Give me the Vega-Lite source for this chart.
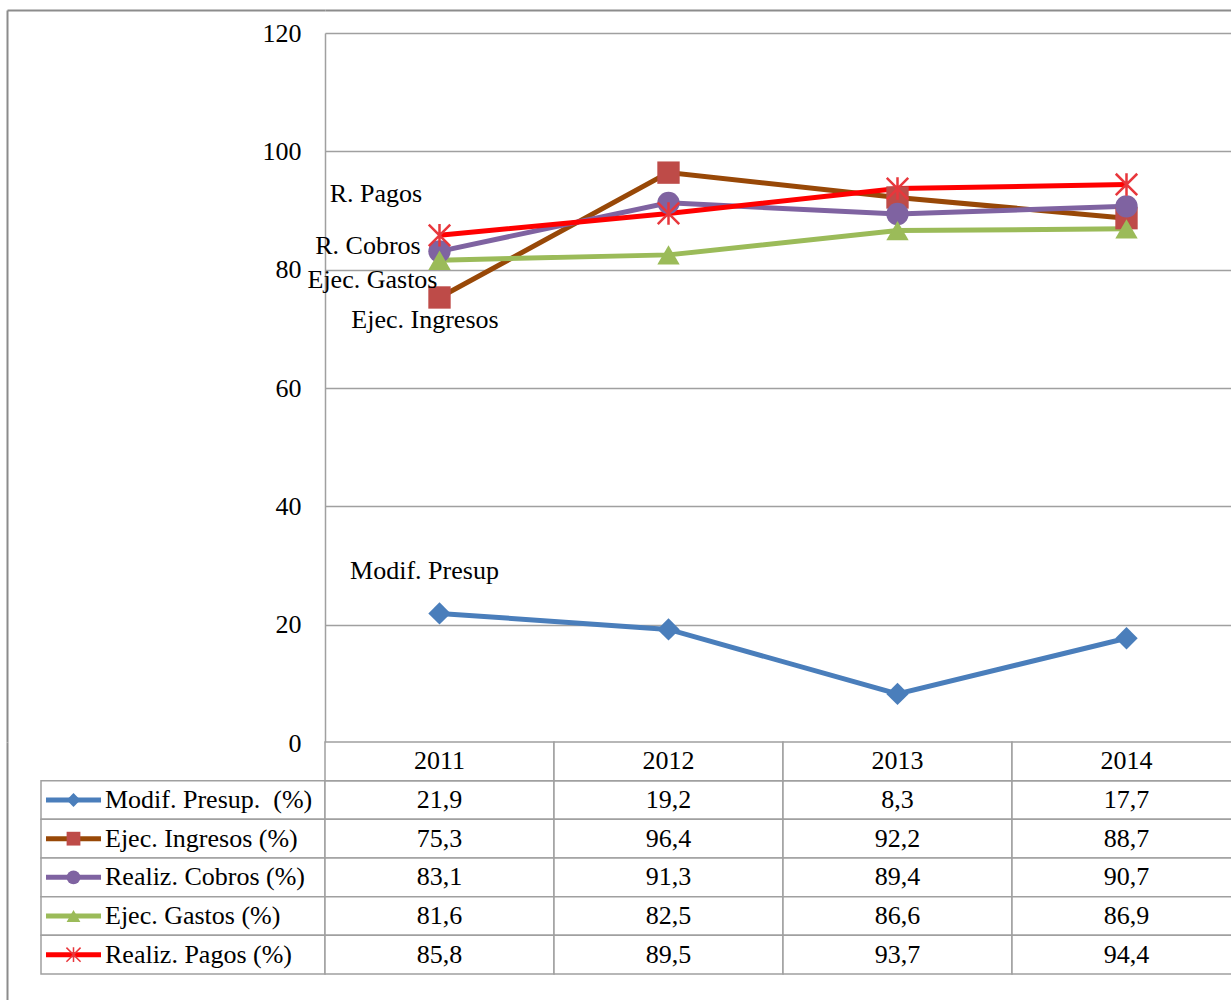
{
  "$schema": "https://vega.github.io/schema/vega-lite/v6.json",
  "padding": {"left": 7, "top": 10, "right": 0, "bottom": 0},
  "background": "white",
  "config": {
    "font": "Liberation Serif",
    "view": {"stroke": null},
    "locale": {"number": {"decimal": ",", "thousands": ".", "grouping": [3], "currency": ["", " €"]}},
    "text": {"font": "Liberation Serif", "fontSize": 26, "color": "black"},
    "axis": {"labelFont": "Liberation Serif", "labelFontSize": 26, "labelColor": "black", "title": null}
  },
  "datasets": {
    "d": [
      {"serie": "Modif. Presup. \u00a0(%)", "anio": "2011", "valor": 21.9},
      {"serie": "Modif. Presup. \u00a0(%)", "anio": "2012", "valor": 19.2},
      {"serie": "Modif. Presup. \u00a0(%)", "anio": "2013", "valor": 8.3},
      {"serie": "Modif. Presup. \u00a0(%)", "anio": "2014", "valor": 17.7},
      {"serie": "Ejec. Ingresos (%)", "anio": "2011", "valor": 75.3},
      {"serie": "Ejec. Ingresos (%)", "anio": "2012", "valor": 96.4},
      {"serie": "Ejec. Ingresos (%)", "anio": "2013", "valor": 92.2},
      {"serie": "Ejec. Ingresos (%)", "anio": "2014", "valor": 88.7},
      {"serie": "Realiz. Cobros (%)", "anio": "2011", "valor": 83.1},
      {"serie": "Realiz. Cobros (%)", "anio": "2012", "valor": 91.3},
      {"serie": "Realiz. Cobros (%)", "anio": "2013", "valor": 89.4},
      {"serie": "Realiz. Cobros (%)", "anio": "2014", "valor": 90.7},
      {"serie": "Ejec. Gastos (%)", "anio": "2011", "valor": 81.6},
      {"serie": "Ejec. Gastos (%)", "anio": "2012", "valor": 82.5},
      {"serie": "Ejec. Gastos (%)", "anio": "2013", "valor": 86.6},
      {"serie": "Ejec. Gastos (%)", "anio": "2014", "valor": 86.9},
      {"serie": "Realiz. Pagos (%)", "anio": "2011", "valor": 85.8},
      {"serie": "Realiz. Pagos (%)", "anio": "2012", "valor": 89.5},
      {"serie": "Realiz. Pagos (%)", "anio": "2013", "valor": 93.7},
      {"serie": "Realiz. Pagos (%)", "anio": "2014", "valor": 94.4}
    ]
  },
  "columns": 2,
  "spacing": 0,
  "bounds": "flush",
  "concat": [
    {
      "width": 284,
      "height": 732,
      "data": {"name": "d"},
      "mark": {"type": "point", "opacity": 0},
      "encoding": {
        "x": {"datum": "a", "type": "nominal", "scale": {"type": "point", "domain": ["a"], "range": [-34, 284]},
              "axis": {"orient": "top", "domain": true, "domainColor": "#8C8C8C", "domainWidth": 2, "labels": false, "ticks": false, "grid": false, "title": null}},
        "y": {"datum": 0, "type": "quantitative", "scale": {"domain": [0, 1]},
              "axis": {"orient": "left", "offset": 34, "domain": true, "domainColor": "#8C8C8C", "domainWidth": 2, "labels": false, "ticks": false, "grid": false, "title": null}}
      }
    },
    {
      "width": 916,
      "height": 732,
      "data": {"name": "d"},
      "encoding": {
        "x": {"field": "anio", "type": "ordinal", "scale": {"type": "point", "padding": 0.5},
              "axis": {"orient": "top", "domain": true, "domainColor": "#8C8C8C", "domainWidth": 2, "labels": false, "ticks": false, "grid": false, "title": null}},
        "y": {"field": "valor", "type": "quantitative", "scale": {"domain": [0, 120], "range": [733, 23], "nice": false, "zero": true},
              "axis": {"values": [0, 20, 40, 60, 80, 100, 120], "domain": true, "domainColor": "#A0A0A0", "domainWidth": 1.5, "ticks": false, "grid": true, "gridColor": "#A0A0A0", "gridWidth": 1.5, "labelPadding": 24, "title": null}}
      },
      "layer": [
        {
          "mark": {"type": "line", "strokeWidth": 5},
          "encoding": {
            "color": {"field": "serie", "type": "nominal",
                      "scale": {"domain": ["Modif. Presup. \u00a0(%)", "Ejec. Ingresos (%)", "Realiz. Cobros (%)", "Ejec. Gastos (%)", "Realiz. Pagos (%)"],
                                "range": ["#4A7EBB", "#984807", "#7F63A1", "#9BBB59", "#FF0000"]},
                      "legend": null}
          }
        },
        {
          "transform": [{"filter": "datum.serie !== 'Realiz. Pagos (%)'"}],
          "mark": {"type": "point", "filled": true, "size": 500, "opacity": 1},
          "encoding": {
            "fill": {"field": "serie", "type": "nominal",
                     "scale": {"domain": ["Modif. Presup. \u00a0(%)", "Ejec. Ingresos (%)", "Realiz. Cobros (%)", "Ejec. Gastos (%)"],
                               "range": ["#4A7EBB", "#BE4B48", "#7F63A1", "#9BBB59"]},
                     "legend": null},
            "shape": {"field": "serie", "type": "nominal",
                      "scale": {"domain": ["Modif. Presup. \u00a0(%)", "Ejec. Ingresos (%)", "Realiz. Cobros (%)", "Ejec. Gastos (%)"],
                                "range": ["diamond", "square", "circle", "triangle-up"]},
                      "legend": null}
          }
        },
        {
          "transform": [{"filter": "datum.serie === 'Realiz. Pagos (%)'"}],
          "mark": {"type": "point", "shape": "M-1,-1L1,1M-1,1L1,-1M0,-1.05L0,1.05", "size": 460, "filled": false, "stroke": "#E8373C", "strokeWidth": 2.5, "opacity": 1}
        },
        {
          "transform": [{"filter": "datum.anio === '2011' && datum.serie === 'Realiz. Pagos (%)'"}],
          "mark": {"type": "text", "text": "R. Pagos", "align": "center", "baseline": "middle", "dx": -63.5, "dy": -41}
        },
        {
          "transform": [{"filter": "datum.anio === '2011' && datum.serie === 'Realiz. Cobros (%)'"}],
          "mark": {"type": "text", "text": "R. Cobros", "align": "center", "baseline": "middle", "dx": -71.5, "dy": -5}
        },
        {
          "transform": [{"filter": "datum.anio === '2011' && datum.serie === 'Ejec. Gastos (%)'"}],
          "mark": {"type": "text", "text": "Ejec. Gastos", "align": "center", "baseline": "middle", "dx": -67, "dy": 20}
        },
        {
          "transform": [{"filter": "datum.anio === '2011' && datum.serie === 'Ejec. Ingresos (%)'"}],
          "mark": {"type": "text", "text": "Ejec. Ingresos", "align": "center", "baseline": "middle", "dx": -14.5, "dy": 22.5}
        },
        {
          "transform": [{"filter": "datum.anio === '2011' && datum.serie === 'Modif. Presup. \u00a0(%)'"}],
          "mark": {"type": "text", "text": "Modif. Presup", "align": "center", "baseline": "middle", "dx": -15, "dy": -42}
        }
      ]
    },
    {
      "width": 284,
      "height": 260,
      "data": {"name": "d"},
      "transform": [{"filter": "datum.anio === '2011'"}],
      "encoding": {
        "y": {"field": "serie", "type": "nominal",
              "scale": {"type": "band", "domain": ["hdr", "Modif. Presup. \u00a0(%)", "Ejec. Ingresos (%)", "Realiz. Cobros (%)", "Ejec. Gastos (%)", "Realiz. Pagos (%)"], "paddingInner": 0, "paddingOuter": 0.362, "align": 0},
              "axis": {"orient": "left", "offset": 34, "domain": true, "domainColor": "#8C8C8C", "domainWidth": 2, "labels": false, "ticks": false, "grid": false, "title": null}}
      },
      "layer": [
        {"mark": {"type": "rect", "fill": "white", "stroke": "#A0A0A0", "strokeWidth": 1.5}},
        {
          "mark": {"type": "rule", "strokeWidth": 5},
          "encoding": {
            "x": {"datum": "a", "type": "nominal", "scale": {"type": "point", "domain": ["a", "b", "c"], "range": [5, 60], "padding": 0}, "axis": null},
            "x2": {"datum": "c"},
            "color": {"field": "serie", "type": "nominal",
                      "scale": {"domain": ["Modif. Presup. \u00a0(%)", "Ejec. Ingresos (%)", "Realiz. Cobros (%)", "Ejec. Gastos (%)", "Realiz. Pagos (%)"],
                                "range": ["#4A7EBB", "#984807", "#7F63A1", "#9BBB59", "#FF0000"]},
                      "legend": null}
          }
        },
        {
          "transform": [{"filter": "datum.serie !== 'Realiz. Pagos (%)'"}],
          "mark": {"type": "point", "filled": true, "size": 190, "opacity": 1},
          "encoding": {
            "x": {"datum": "b", "type": "nominal"},
            "fill": {"field": "serie", "type": "nominal",
                     "scale": {"domain": ["Modif. Presup. \u00a0(%)", "Ejec. Ingresos (%)", "Realiz. Cobros (%)", "Ejec. Gastos (%)"],
                               "range": ["#4A7EBB", "#BE4B48", "#7F63A1", "#9BBB59"]},
                     "legend": null},
            "shape": {"field": "serie", "type": "nominal",
                      "scale": {"domain": ["Modif. Presup. \u00a0(%)", "Ejec. Ingresos (%)", "Realiz. Cobros (%)", "Ejec. Gastos (%)"],
                                "range": ["diamond", "square", "circle", "triangle-up"]},
                      "legend": null}
          }
        },
        {
          "transform": [{"filter": "datum.serie === 'Realiz. Pagos (%)'"}],
          "mark": {"type": "point", "shape": "M-1,-1L1,1M-1,1L1,-1M0,-1.05L0,1.05", "size": 200, "filled": false, "stroke": "#E8373C", "strokeWidth": 1.5, "opacity": 1},
          "encoding": {"x": {"datum": "b", "type": "nominal"}}
        },
        {
          "mark": {"type": "text", "align": "left", "baseline": "middle", "dx": 4},
          "encoding": {
            "x": {"datum": "c", "type": "nominal"},
            "text": {"field": "serie", "type": "nominal"}
          }
        }
      ]
    },
    {
      "width": 916,
      "height": 260,
      "data": {"name": "d"},
      "encoding": {
        "x": {"field": "anio", "type": "ordinal", "scale": {"type": "band", "paddingInner": 0, "paddingOuter": 0}, "axis": null},
        "y": {"field": "serie", "type": "nominal",
              "scale": {"type": "band", "domain": ["hdr", "Modif. Presup. \u00a0(%)", "Ejec. Ingresos (%)", "Realiz. Cobros (%)", "Ejec. Gastos (%)", "Realiz. Pagos (%)"], "paddingInner": 0, "paddingOuter": 0.362, "align": 0},
              "axis": null}
      },
      "layer": [
        {"mark": {"type": "rect", "fill": "white", "stroke": "#A0A0A0", "strokeWidth": 1.5}},
        {
          "transform": [{"filter": "datum.serie === 'Modif. Presup. \u00a0(%)'"}],
          "mark": {"type": "rect", "fill": "white", "stroke": "#A0A0A0", "strokeWidth": 1.5},
          "encoding": {"y": {"datum": "hdr", "type": "nominal"}}
        },
        {
          "mark": {"type": "text", "align": "center", "baseline": "middle"},
          "encoding": {"text": {"field": "valor", "type": "quantitative", "format": ".1f"}}
        },
        {
          "transform": [{"filter": "datum.serie === 'Modif. Presup. \u00a0(%)'"}],
          "mark": {"type": "text", "align": "center", "baseline": "middle"},
          "encoding": {"y": {"datum": "hdr", "type": "nominal"}, "text": {"field": "anio", "type": "nominal"}}
        }
      ]
    }
  ]
}
